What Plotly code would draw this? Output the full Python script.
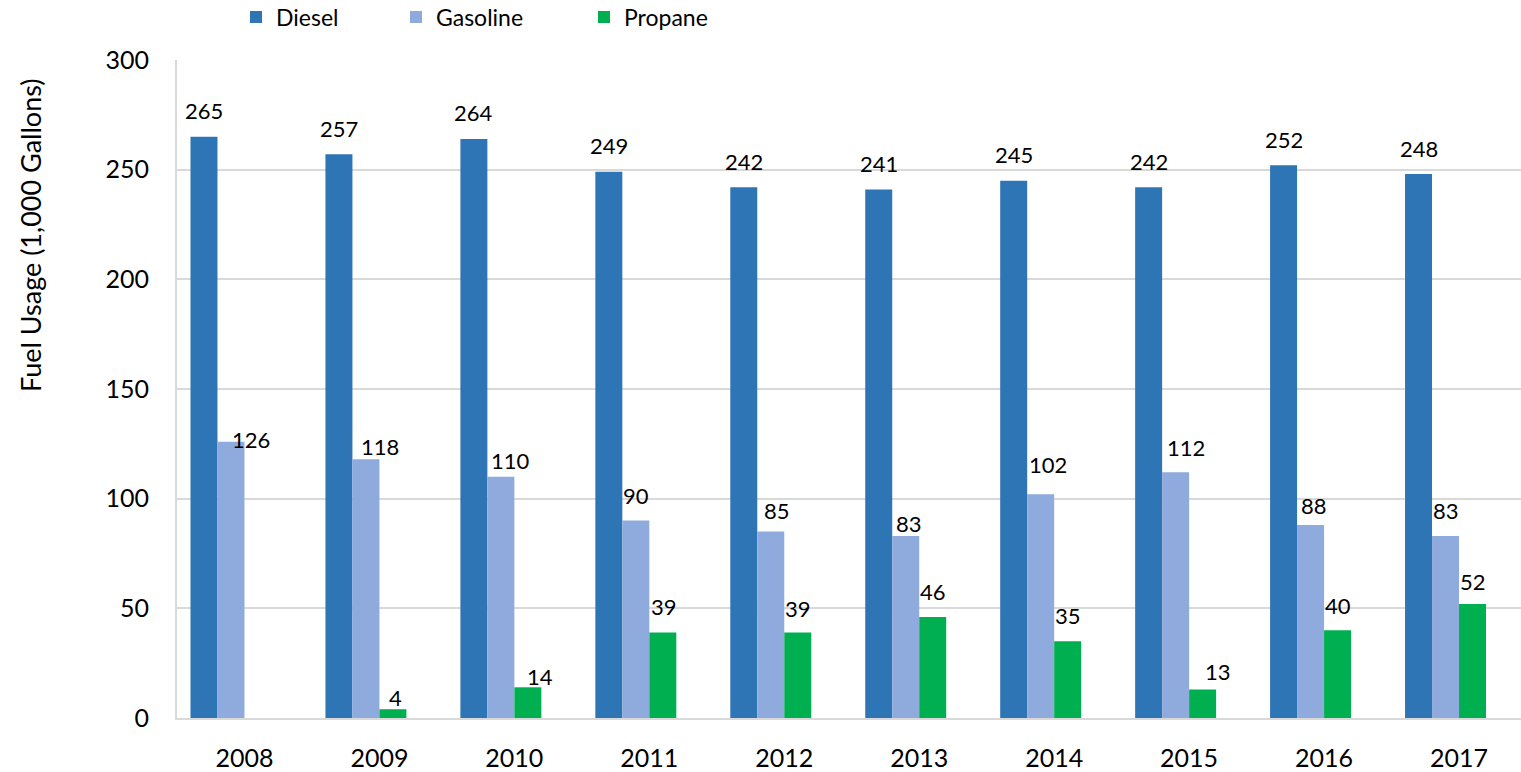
import plotly.graph_objects as go

years = ["2008", "2009", "2010", "2011", "2012", "2013", "2014", "2015", "2016", "2017"]
diesel = [265, 257, 264, 249, 242, 241, 245, 242, 252, 248]
gasoline = [126, 118, 110, 90, 85, 83, 102, 112, 88, 83]
propane = [None, 4, 14, 39, 39, 46, 35, 13, 40, 52]
y_ticks = [0, 50, 100, 150, 200, 250, 300]
y_title = "Fuel Usage (1,000 Gallons)"

# label placement tweaks (pixels): (dx, dy-above-bar-top)
diesel_lbl = [(0, 26)] * 10
gasoline_lbl = [(20, 2), (14, 13), (10, 16), (0, 25), (6, 21), (3, 12), (7, 30), (10, 25), (3, 19), (0, 25)]
propane_lbl = [(0, 0), (3, 12), (12, 11), (1, 26), (0, 24), (0, 26), (0, 26), (15, 18), (0, 25), (0, 22)]

FONT = "Lato"
C_DIESEL = "#2E75B6"
C_GAS = "#8FAADC"
C_PROP = "#00B050"
GRID = "#D9D9D9"

W = 0.2  # bar width in category units (4 slots per category, 4th empty)
series = [
    ("Diesel", diesel, C_DIESEL, -0.4, diesel_lbl, "legend"),
    ("Gasoline", gasoline, C_GAS, -0.2, gasoline_lbl, "legend2"),
    ("Propane", propane, C_PROP, 0.0, propane_lbl, "legend3"),
]

fig = go.Figure()
annotations = []
for name, vals, col, off, lbl, lg in series:
    fig.add_trace(go.Bar(
        name=name, x=years, y=vals, width=W, offset=off,
        marker=dict(color=col, line=dict(width=0)),
        legend=lg, hoverinfo="x+y+name",
    ))
    for i, v in enumerate(vals):
        if v is None:
            continue
        dx, dy = lbl[i]
        annotations.append(dict(
            x=i + off + W / 2, y=v, xref="x", yref="y",
            text=str(v), showarrow=False, xanchor="center", yanchor="middle",
            xshift=dx, yshift=dy, font=dict(family=FONT, size=22, color="#000000"),
        ))

L, T, B = 177, 60, 54
PW = 1521 - L
PH = 772 - T - B

def px_to_paper_x(px):
    return (px - L) / PW

def px_to_paper_y(py):
    return (772 - B - py) / PH

# y-axis title (placed like the reference, above centre)
annotations.append(dict(
    x=px_to_paper_x(30), y=px_to_paper_y(235), xref="paper", yref="paper",
    text=y_title, textangle=-90, showarrow=False, xanchor="center", yanchor="middle",
    font=dict(family=FONT, size=27, color="#000000"),
))

legend_common = dict(orientation="h", xanchor="left", yanchor="middle",
                     font=dict(family=FONT, size=23, color="#000000"),
                     bgcolor="rgba(0,0,0,0)", itemclick=False, itemdoubleclick=False)

fig.update_layout(
    width=1521, height=772,
    margin=dict(l=L, r=0, t=T, b=B, autoexpand=False),
    paper_bgcolor="white", plot_bgcolor="white",
    barmode="overlay",
    showlegend=True,
    legend=dict(x=px_to_paper_x(236), y=px_to_paper_y(17), **legend_common),
    legend2=dict(x=px_to_paper_x(396), y=px_to_paper_y(17), **legend_common),
    legend3=dict(x=px_to_paper_x(584), y=px_to_paper_y(17), **legend_common),
    annotations=annotations,
    font=dict(family=FONT, color="#000000"),
)

fig.update_xaxes(
    type="category", range=[-0.5, 9.5 - 5.5 / 135],
    showgrid=False, showline=True, linecolor=GRID, linewidth=2,
    ticks="", tickfont=dict(family=FONT, size=25, color="#000000"),
    ticklabelstandoff=17, fixedrange=True,
)
fig.update_yaxes(
    range=[0, 300], tickvals=y_ticks, showgrid=True, gridcolor=GRID, gridwidth=2,
    showline=True, linecolor=GRID, linewidth=2, zeroline=False,
    ticks="", tickfont=dict(family=FONT, size=25, color="#000000"),
    ticklabelstandoff=21, automargin=False, fixedrange=True,
)

fig.write_html(
    "out.html",
    config={"displayModeBar": False},
    post_script="document.body.style.margin='0px';document.body.style.overflow='hidden';",
)
